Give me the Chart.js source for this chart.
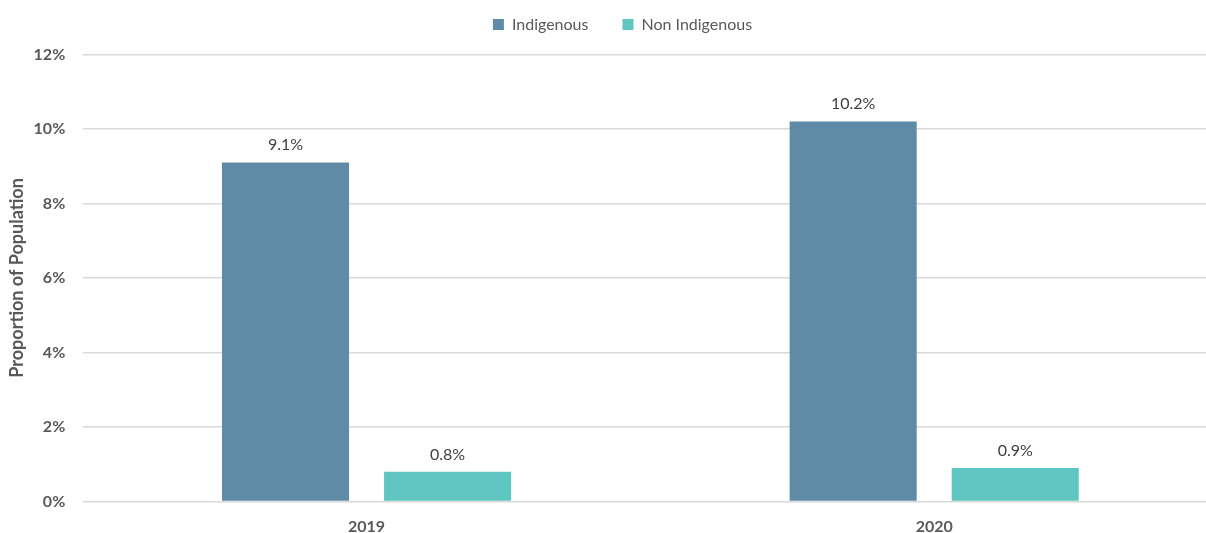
<!DOCTYPE html>
<html>
<head>
<meta charset="utf-8">
<script src="https://cdn.jsdelivr.net/npm/chart.js@4.4.1/dist/chart.umd.min.js"></script>
<style>
  html, body { margin: 0; padding: 0; background: #fff; overflow: hidden; }
  #wrap { width: 1218px; height: 533px; }
</style>
</head>
<body>
<div id="wrap"><canvas id="chart" width="1218" height="533"></canvas></div>
<script>
const years = ['2019', '2020'];
const indigenous = [9.1, 10.2];
const nonIndigenous = [0.8, 0.9];
const yTicks = [0, 2, 4, 6, 8, 10, 12];

const FontFamily = 'Lato';
const AxisColor = '#595959';
const GridColor = '#d9d9d9';

// Fixed legend height so the plot starts right under it
const legendSpacer = {
	id: 'legendSpacer',
	beforeInit(chart) {
		const fit = chart.legend.fit;
		chart.legend.fit = function () {
			fit.call(this);
			this.height = 72;
		};
	}
};

// Value printed above each bar
const barValueLabels = {
	id: 'barValueLabels',
	afterDatasetsDraw(chart) {
		const ctx = chart.ctx;
		ctx.save();
		ctx.font = `16px ${FontFamily}`;
		ctx.fillStyle = '#404040';
		ctx.textAlign = 'center';
		ctx.textBaseline = 'alphabetic';
		chart.data.datasets.forEach((ds, i) => {
			chart.getDatasetMeta(i).data.forEach((bar, j) => {
				ctx.fillText(ds.data[j].toFixed(1) + '%', bar.x, bar.y - 12);
			});
		});
		ctx.restore();
	}
};

new Chart(document.getElementById('chart').getContext('2d'), {
	type: 'bar',
	data: {
		labels: years,
		datasets: [
			{ label: 'Indigenous', data: indigenous, backgroundColor: '#5f8ba7' },
			{ label: 'Non Indigenous', data: nonIndigenous, backgroundColor: '#60c6c1' }
		]
	},
	options: {
		responsive: false,
		animation: false,
		layout: { padding: { top: -17.6, left: 27, right: 0, bottom: 0 } },
		datasets: { bar: { categoryPercentage: 0.571, barPercentage: 0.784 } },
		scales: {
			x: {
				grid: { display: false, drawTicks: false },
				border: { display: false },
				ticks: { color: AxisColor, padding: 16, font: { family: FontFamily, size: 16, weight: 'bold' } },
				afterFit: (scale) => { scale.height = 31.5; }
			},
			y: {
				min: 0,
				max: 12,
				afterBuildTicks: (scale) => { scale.ticks = yTicks.map(v => ({ value: v })); },
				grid: { color: GridColor, lineWidth: 1.6, drawTicks: false },
				border: { display: false },
				ticks: {
					color: AxisColor,
					padding: 17.5,
					font: { family: FontFamily, size: 16, weight: 'bold' },
					callback: (v) => v + '%'
				},
				title: {
					display: true,
					text: 'Proportion of Population',
					color: AxisColor,
					padding: { top: -20.3, bottom: 0 },
					font: { family: FontFamily, size: 18, weight: 'bold' }
				},
				afterFit: (scale) => { scale.width = 55.75; }
			}
		},
		plugins: {
			legend: {
				position: 'top',
				labels: {
					boxWidth: 11,
					boxHeight: 11,
					padding: 34,
					color: AxisColor,
					font: { family: FontFamily, size: 16 }
				}
			},
			tooltip: { enabled: false }
		}
	},
	plugins: [legendSpacer, barValueLabels]
});
</script>
</body>
</html>
